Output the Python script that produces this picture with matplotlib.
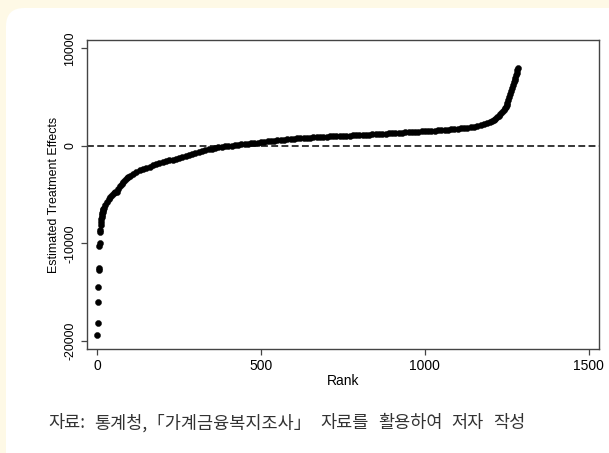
import matplotlib
matplotlib.use("Agg")
import matplotlib.pyplot as plt
from matplotlib.patches import FancyBboxPatch

# ---- data ----
rank = [1, 2, 3, 4, 5, 6, 7, 8, 9, 10, 11, 12, 13, 14, 15, 16, 17, 18, 19, 20,
        25, 30, 35, 40, 45, 50, 55, 60, 65, 70, 75, 80, 85, 90, 95, 100,
        110, 120, 130, 140, 150, 160, 170, 180, 190, 200, 210, 220, 230, 240,
        250, 260, 270, 280, 290, 300, 310, 320, 330, 340, 350, 360, 370, 380,
        390, 400, 410, 420, 430, 440, 450, 460, 470, 480, 490, 500, 510, 520,
        530, 540, 550, 560, 570, 580, 590, 600, 610, 620, 630, 640, 650, 660,
        670, 680, 690, 700, 710, 720, 730, 740, 750, 760, 770, 780, 790, 800,
        810, 820, 830, 840, 850, 860, 870, 880, 890, 900, 910, 920, 930, 940,
        950, 960, 970, 980, 990, 1000, 1010, 1020, 1030, 1040, 1050, 1060,
        1070, 1080, 1090, 1100, 1110, 1120, 1130, 1140, 1150, 1160, 1170, 1180,
        1190, 1200, 1205, 1210, 1215, 1220, 1225, 1230, 1235, 1240, 1243, 1246,
        1249, 1252, 1255, 1258, 1261, 1264, 1267, 1270, 1272, 1274, 1276, 1278,
        1280, 1282, 1283]
effect = [-19400, -18200, -16000, -14450, -12750, -12550, -10250, -9950, -8850,
          -8600, -8100, -7800, -7500, -7250, -7050, -6900, -6750, -6600, -6480,
          -6370,
          -6100, -5800, -5450, -5200, -5000, -4880, -4780, -4680, -4400, -4150,
          -3950, -3700, -3500, -3300, -3180, -3060,
          -2850, -2650, -2500, -2380, -2250, -2120, -1980, -1880, -1790, -1700,
          -1600, -1500, -1400, -1300, -1200, -1110, -1020, -920, -820, -720,
          -620, -530, -450, -370, -300, -220, -160, -100, -50, -10, 30, 70,
          110, 150, 190, 230, 270, 300, 340, 380, 420, 460, 500, 540, 580, 610,
          650, 680, 710, 730, 760, 780, 800, 830, 850, 870, 890, 910, 930, 950,
          960, 980, 1000, 1010, 1030, 1050, 1060, 1080, 1090, 1110, 1130, 1140,
          1160, 1180, 1190, 1210, 1230, 1250, 1270, 1290, 1310, 1330, 1350,
          1370, 1390, 1410, 1430, 1460, 1490, 1510, 1530, 1550, 1570, 1590,
          1610, 1630, 1650, 1680, 1710, 1740, 1780, 1820, 1870, 1920, 1980,
          2040, 2100, 2200, 2320, 2460, 2560, 2680, 2800, 2940, 3100, 3280,
          3480, 3700, 3850, 4020, 4200, 4420, 4700, 5000, 5300, 5600, 5900,
          6250, 6500, 6750, 7000, 7250, 7500, 7800, 8000]

x_ticks = [0, 500, 1000, 1500]
y_ticks = [-20000, -10000, 0, 10000]
x_label = "Rank"
y_label = "Estimated Treatment Effects"
caption_words = ["자료:", "통계청,「가계금융복지조사」", "자료를", "활용하여", "저자", "작성"]

# ---- figure ----
W, H = 609, 453
fig = plt.figure(figsize=(W / 100, H / 100), dpi=100)
fig.patch.set_facecolor("#FEF9E6")

panel = FancyBboxPatch((6 / W, -30 / H), (W + 20) / W, (H - 8 + 30) / H,
                       boxstyle="round,pad=0,rounding_size=0.03",
                       transform=fig.transFigure, facecolor="white",
                       edgecolor="none", zorder=-10, mutation_aspect=W / H)
fig.patches.append(panel)

ax = fig.add_axes([87.3 / W, (H - 349) / H, (598.6 - 87.3) / W, (349 - 40) / H])
ax.set_zorder(5)
ax.set_facecolor("white")

font = ["Liberation Sans", "DejaVu Sans"]
edge = "#444444"

ax.axhline(0, color="black", linewidth=1.1, dashes=(4.5, 2.2), zorder=1)
ax.plot(rank, effect, linestyle="none", marker="o", markersize=4.4,
        markerfacecolor="black", markeredgecolor="black", markeredgewidth=0.3,
        zorder=2)

ax.set_xlim(-30, 1530)
ax.set_ylim(-20820, 10850)
ax.set_xticks(x_ticks)
ax.set_yticks(y_ticks)
ax.set_xticklabels([str(v) for v in x_ticks], family=font, fontsize=10)
ax.set_yticklabels([str(v) for v in y_ticks], family=font, fontsize=8.9,
                   rotation=90, va="center")
ax.tick_params(axis="both", direction="out", length=4, width=0.9,
               color=edge, pad=3.0)
ax.tick_params(axis="y", pad=4)
for s in ax.spines.values():
    s.set_color(edge)
    s.set_linewidth(1.0)

ax.set_xlabel(x_label, family=font, fontsize=10, labelpad=1)
ax.set_ylabel(y_label, family=font, fontsize=8.9, labelpad=3)

# caption: words spread so the line spans the same width as the reference
cap_left, cap_right, cap_y = 48, 525, 423
texts = [fig.text(0, 1 - cap_y / H, w, ha="left", va="center",
                  fontsize=12.6, color="#333333",
                  family=["Noto Sans CJK KR", "DejaVu Sans"], zorder=6)
         for w in caption_words]
renderer = fig.canvas.get_renderer()
widths = [t.get_window_extent(renderer).width for t in texts]
gap = (cap_right - cap_left - sum(widths)) / (len(texts) - 1)
x = cap_left
for t, wd in zip(texts, widths):
    t.set_x(x / W)
    x += wd + gap

fig.savefig("out.png", dpi=100, facecolor=fig.get_facecolor())
